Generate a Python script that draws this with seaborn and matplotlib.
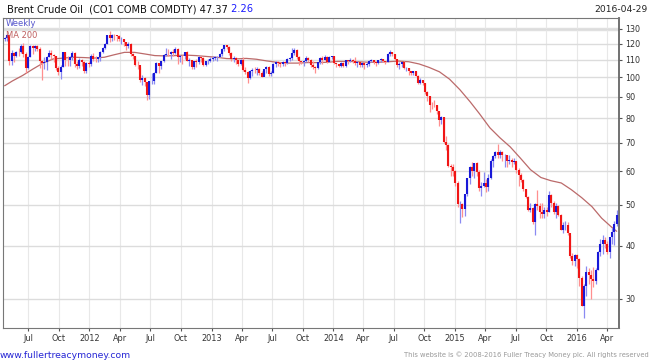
import numpy as np
import pandas as pd
import matplotlib
matplotlib.use('Agg')
import matplotlib.pyplot as plt
from matplotlib.ticker import FixedLocator, NullLocator
import seaborn as sns

# weekly Brent bars, Friday closes from 2011-04-22 to 2016-04-29
first_open = 123.4
closes = [
    # 2011
    123.5, 125.9, 109.1, 113.8, 112.4, 115.0, 114.8, 118.8, 113.2, 105.1,
    111.9, 118.3, 117.2, 118.7, 116.7, 109.4, 108.0, 108.6, 111.4, 114.3,
    112.8, 112.2, 105.0, 102.8, 105.9, 114.6, 110.1, 109.9, 111.9, 114.2,
    107.6, 106.4, 109.9, 108.6, 103.4, 107.9, 107.4,
    # 2012
    112.4, 110.4, 110.2, 111.5, 114.5, 117.3, 119.6, 125.5, 123.7, 126.0,
    125.8, 125.1, 122.9, 123.4, 121.2, 118.7, 120.0, 113.2, 112.3, 107.1,
    106.8, 98.4, 99.5, 97.6, 90.9, 97.8, 98.2, 102.4, 107.8, 106.5,
    109.0, 113.0, 113.7, 113.6, 114.6, 114.3, 116.7, 111.4, 112.4, 112.0,
    114.6, 109.4, 109.6, 105.7, 109.4, 108.9, 111.4, 111.2, 107.0, 109.2,
    109.2, 110.6,
    # 2013
    111.3, 111.6, 111.9, 113.3, 116.8, 118.9, 117.7, 114.0, 110.4, 110.9,
    109.8, 107.7, 110.0, 104.1, 102.9, 99.7, 103.4, 104.2, 103.9, 104.6,
    102.6, 100.4, 104.6, 105.9, 101.9, 102.2, 107.7, 108.8, 108.1, 107.2,
    108.9, 108.3, 110.4, 111.0, 114.0, 116.1, 111.7, 109.2, 108.6, 109.5,
    111.3, 109.9, 106.9, 105.5, 105.1, 108.5, 111.0, 109.7, 111.6, 108.8,
    111.8, 112.2,
    # 2014
    107.9, 107.3, 106.5, 107.9, 106.4, 109.6, 109.1, 110.0, 109.1, 108.2,
    108.6, 106.9, 107.8, 106.7, 107.3, 109.5, 109.6, 108.6, 108.0, 109.8,
    110.5, 109.4, 108.6, 113.4, 114.8, 113.3, 110.6, 106.7, 107.2, 108.4,
    105.0, 105.0, 103.5, 102.3, 103.2, 100.8, 97.1, 98.4, 97.0, 92.3,
    90.2, 86.2, 86.1, 85.9, 83.4, 79.4, 80.4, 70.2, 69.1, 61.9,
    61.4, 60.2,
    # 2015
    56.4, 50.1, 50.2, 48.8, 53.0, 57.8, 61.5, 60.2, 62.6, 59.7,
    54.7, 55.3, 56.4, 55.0, 57.9, 63.5, 65.3, 66.5, 65.4, 66.8,
    65.4, 65.6, 63.3, 63.9, 63.0, 63.3, 60.3, 58.7, 57.1, 54.6,
    52.2, 48.6, 49.2, 45.5, 50.1, 49.6, 48.1, 47.5, 48.6, 48.1,
    52.7, 50.5, 48.0, 49.6, 47.4, 43.6, 44.7, 44.9, 43.0, 37.9,
    36.9, 38.0,
    # 2016
    37.3, 33.6, 28.9, 32.2, 34.7, 34.1, 33.4, 33.0, 35.1, 38.7,
    40.4, 41.2, 40.4, 38.7, 41.9, 43.1, 45.1, 47.37,
]
highs = [
    124.8, 126.6, 125.5, 116.0, 114.5, 115.5, 117.0, 120.0, 120.5, 114.5,
    112.5, 119.0, 119.0, 119.0, 119.0, 118.0, 110.0, 111.5, 112.0, 116.0,
    116.0, 113.5, 112.5, 106.5, 107.0, 115.0, 114.5, 112.5, 112.5, 115.5,
    114.5, 109.5, 111.0, 110.5, 109.0, 108.5, 109.5,
    113.5, 114.0, 112.5, 111.8, 115.5, 118.0, 120.5, 125.7, 128.4, 126.5,
    126.5, 126.0, 125.5, 124.5, 123.0, 120.5, 121.0, 120.5, 114.0, 112.0,
    109.5, 105.5, 101.0, 100.0, 97.5, 98.0, 102.5, 103.0, 108.5, 108.0,
    109.5, 113.5, 117.0, 116.5, 115.5, 116.5, 117.9, 117.0, 113.0, 113.0,
    115.0, 115.5, 111.0, 110.0, 109.5, 110.5, 112.0, 112.0, 111.5, 109.5,
    110.5, 111.5,
    112.5, 112.5, 112.5, 114.0, 117.0, 119.2, 119.2, 118.5, 114.5, 112.0,
    111.5, 110.0, 110.5, 111.5, 106.0, 103.5, 104.0, 105.0, 106.0, 105.5,
    105.0, 103.5, 104.8, 106.5, 106.5, 103.5, 108.0, 109.5, 109.5, 108.5,
    109.5, 109.5, 111.0, 111.5, 117.3, 117.0, 116.5, 112.5, 109.5, 110.0,
    112.0, 111.5, 110.5, 109.5, 106.5, 108.8, 111.5, 112.0, 113.0, 112.0,
    112.0, 112.5,
    112.5, 108.0, 107.5, 108.5, 108.5, 110.0, 109.9, 111.0, 110.5, 111.5,
    109.5, 108.5, 108.5, 108.5, 108.5, 110.0, 110.5, 110.0, 108.8, 110.0,
    111.0, 110.5, 109.5, 114.0, 115.7, 115.0, 113.5, 110.5, 108.5, 108.5,
    109.0, 106.0, 105.0, 103.5, 103.5, 103.5, 101.0, 99.5, 98.5, 97.0,
    93.0, 90.5, 87.5, 88.5, 86.0, 83.0, 81.0, 80.5, 72.5, 69.5,
    62.5, 62.5,
    60.5, 57.0, 51.0, 50.5, 53.0, 58.0, 61.8, 63.0, 62.9, 63.0,
    60.5, 56.5, 59.7, 57.5, 59.0, 64.0, 65.5, 67.0, 69.6, 67.5,
    67.0, 66.0, 65.5, 65.5, 64.5, 64.5, 63.5, 61.0, 59.5, 57.5,
    54.5, 52.5, 50.5, 49.5, 50.5, 54.2, 50.5, 50.5, 49.5, 49.5,
    53.8, 53.0, 51.0, 50.5, 50.0, 47.5, 45.5, 45.9, 45.5, 42.5,
    38.5, 38.2,
    38.2, 37.5, 34.0, 32.5, 35.8, 35.5, 35.0, 35.6, 35.5, 38.9,
    41.6, 42.5, 42.0, 41.0, 42.0, 44.0, 45.8, 48.5,
]
lows = [
    121.5, 122.0, 107.0, 107.0, 108.5, 111.5, 112.5, 114.0, 111.5, 102.5,
    104.5, 111.5, 113.5, 115.5, 115.5, 105.0, 98.7, 104.5, 104.0, 111.5,
    110.5, 108.5, 104.0, 101.5, 99.0, 105.5, 106.5, 106.5, 106.5, 110.0,
    106.0, 104.5, 105.0, 106.5, 102.5, 102.5, 106.0,
    106.5, 109.5, 108.5, 108.5, 109.5, 114.0, 116.5, 119.5, 121.0, 121.5,
    122.5, 122.0, 121.5, 119.5, 118.5, 116.0, 117.5, 112.5, 110.5, 106.5,
    104.5, 97.5, 96.0, 95.5, 88.5, 89.0, 96.5, 96.5, 102.5, 102.5,
    104.5, 108.5, 112.5, 112.0, 110.5, 112.0, 113.5, 107.5, 108.5, 107.5,
    110.5, 109.0, 106.5, 104.5, 104.5, 105.5, 107.5, 108.5, 106.5, 106.5,
    107.5, 108.5,
    109.5, 110.0, 109.5, 111.5, 112.5, 115.5, 116.5, 113.0, 109.5, 108.5,
    107.5, 106.5, 107.0, 103.5, 102.0, 96.8, 99.0, 100.5, 102.5, 101.5,
    101.0, 100.0, 101.0, 102.5, 100.5, 100.5, 102.5, 105.5, 106.5, 106.0,
    106.5, 106.5, 107.5, 109.0, 110.0, 113.0, 110.5, 107.0, 107.5, 106.5,
    108.5, 108.5, 106.0, 104.5, 102.5, 104.5, 107.5, 107.5, 110.0, 108.0,
    108.5, 110.5,
    107.5, 105.5, 105.5, 106.0, 105.5, 105.5, 107.5, 108.5, 108.0, 107.0,
    106.0, 105.5, 105.5, 104.5, 105.5, 106.5, 108.5, 107.5, 106.5, 107.5,
    108.5, 108.5, 107.5, 108.5, 112.5, 112.0, 110.0, 106.0, 104.5, 106.0,
    104.5, 103.5, 101.5, 101.0, 101.5, 100.5, 96.5, 96.5, 96.0, 91.5,
    88.0, 82.6, 84.0, 85.0, 82.0, 76.8, 77.5, 69.8, 67.5, 61.5,
    58.5, 58.5,
    55.5, 49.5, 45.2, 46.8, 47.0, 52.5, 56.0, 58.5, 58.0, 58.5,
    54.0, 52.5, 55.0, 53.5, 54.0, 57.5, 61.5, 64.5, 64.5, 64.5,
    63.5, 61.5, 61.5, 62.5, 61.5, 62.5, 59.5, 55.5, 56.5, 54.0,
    52.0, 48.3, 48.0, 45.0, 42.4, 48.5, 46.5, 46.5, 46.5, 47.0,
    48.0, 49.5, 47.5, 46.5, 47.0, 43.5, 43.0, 43.5, 42.5, 37.5,
    36.0, 35.9,
    35.5, 32.2, 28.8, 27.1, 30.5, 32.5, 30.0, 32.0, 32.5, 35.0,
    37.8, 38.2, 39.5, 38.3, 37.5, 40.5, 40.1, 44.5,
]

# 200 day moving average
ma_dates = [
    '2011-04-22', '2011-05-15', '2011-06-15', '2011-07-15', '2011-08-15', '2011-09-15',
    '2011-10-15', '2011-11-15', '2011-12-15', '2012-01-15', '2012-02-15', '2012-03-15',
    '2012-04-15', '2012-05-15', '2012-06-15', '2012-07-15', '2012-08-15', '2012-09-15',
    '2012-10-15', '2012-11-15', '2012-12-15', '2013-01-15', '2013-02-15', '2013-03-15',
    '2013-04-15', '2013-05-15', '2013-06-15', '2013-07-15', '2013-08-15', '2013-09-15',
    '2013-10-15', '2013-11-15', '2013-12-15', '2014-01-15', '2014-02-15', '2014-03-15',
    '2014-04-15', '2014-05-15', '2014-06-15', '2014-07-15', '2014-08-15', '2014-09-15',
    '2014-10-15', '2014-11-15', '2014-12-15', '2015-01-15', '2015-02-15', '2015-03-15',
    '2015-04-15', '2015-05-15', '2015-06-15', '2015-07-15', '2015-08-15', '2015-09-15',
    '2015-10-15', '2015-11-15', '2015-12-15', '2016-01-15', '2016-02-15', '2016-03-15',
    '2016-04-15', '2016-04-29',
]
ma_values = [
    95.5, 98.0, 101.0, 104.5, 108.0, 110.5,
    111.0, 111.5, 111.3, 111.0, 111.5, 113.0,
    114.5, 114.5, 113.5, 112.5, 112.3, 112.5,
    112.8, 112.5, 112.0, 111.5, 110.7, 110.5,
    110.8, 110.3, 109.3, 108.5, 108.0, 108.0,
    108.3, 108.3, 108.5, 109.0, 109.0, 108.8,
    108.5, 108.5, 108.8, 109.2, 108.8, 107.5,
    105.5, 103.0, 99.0, 93.5, 87.5, 82.0,
    76.0, 72.0, 68.5, 64.5, 60.5, 58.0,
    57.0, 56.3, 54.3, 52.0, 49.5, 46.5,
    44.2, 43.3,
]

y_ticks = [30, 40, 50, 60, 70, 80, 90, 100, 110, 120, 130]

weeks = pd.date_range('2011-04-22', periods=len(closes), freq='W-FRI')
opens = [first_open] + closes[:-1]
df = pd.DataFrame({'date': weeks, 'open': opens, 'high': highs,
                   'low': lows, 'close': closes})
df['up'] = df['close'] >= df['open']
df['body_lo'] = np.minimum(df['open'], df['close'])
df['body_hi'] = np.maximum(df['open'], df['close'])

sns.set_theme(style='white')
plt.rcParams['font.family'] = ['DejaVu Sans']

fig = plt.figure(figsize=(6.5, 3.63), dpi=100)
ax = fig.add_axes([3/650, 35/363, 616/650, 310/363])

# MA line first so the axis picks up date units
sns.lineplot(x=pd.to_datetime(ma_dates), y=ma_values, ax=ax,
             color='#bb6a6a', lw=0.9, zorder=3)

for is_up, dark, light in [(True, '#1818d8', '#8a8af2'), (False, '#f01515', '#ff8f8f')]:
    d = df[df['up'] == is_up]
    ax.vlines(d['date'], d['low'], d['high'], color=light, lw=0.9, zorder=4)
    ax.vlines(d['date'], d['body_lo'], d['body_hi'], color=dark, lw=1.5, zorder=5)

ax.set_yscale('log')
ax.set_ylim(25.6, 138)
ax.yaxis.tick_right()
ax.yaxis.set_major_locator(FixedLocator(y_ticks))
ax.yaxis.set_minor_locator(NullLocator())
ax.set_yticklabels([str(v) for v in y_ticks])

ax.set_xlim(pd.Timestamp('2011-04-17'), pd.Timestamp('2016-05-06'))
quarters = pd.date_range('2011-07-01', '2016-04-01', freq='QS')
ax.set_xticks(quarters)
ax.set_xticklabels([str(q.year) if q.month == 1 else q.strftime('%b') for q in quarters])
ax.set_xlabel('')
ax.set_ylabel('')

ax.tick_params(axis='y', which='major', direction='out', length=2.5, width=0.8,
               colors='#555555', labelcolor='#333333', labelsize=5.8, pad=2)
ax.tick_params(axis='x', which='major', direction='out', length=2.5, width=0.8,
               colors='#555555', labelcolor='#333333', labelsize=5.9, pad=1.5,
               bottom=True)

ax.set_axisbelow(True)
ax.grid(axis='y', color='#dcdcdc', lw=1.0)
ax.grid(axis='x', color='#e8e8e8', lw=0.8)
ax.axhline(130, color='#e2e2e2', lw=2.5, zorder=0)

for side in ['left', 'top', 'bottom']:
    ax.spines[side].set_color('#777777')
    ax.spines[side].set_linewidth(0.8)
ax.spines['right'].set_color('#666666')
ax.spines['right'].set_linewidth(1.3)

t1 = fig.text(7/650, 1 - 9/363, 'Brent Crude Oil  (CO1 COMB COMDTY) 47.37',
              fontsize=7.1, color='#111111', va='center')
ax.annotate(' 2.26', xy=(1, 0.5), xycoords=t1, va='center', ha='left',
            color='#1a1aff', fontsize=7.1, annotation_clip=False)
fig.text(648/650, 1 - 9/363, '2016-04-29', ha='right', va='center',
         fontsize=6.6, color='#222222')
fig.text(6/650, 1 - 24/363, 'Weekly', fontsize=6, color='#5555cc', va='center')
fig.text(6/650, 1 - 36/363, 'MA 200', fontsize=6, color='#c06060', va='center')

fig.text(0, 1 - 355/363, 'www.fullertreacymoney.com', fontsize=6.7,
         color='#2525d5', va='center')
fig.text(649/650, 1 - 355/363,
         'This website is \u00a9 2008-2016 Fuller Treacy Money plc. All rights reserved',
         ha='right', va='center', fontsize=4.9, color='#999999')

fig.savefig('out.png', dpi=100)
